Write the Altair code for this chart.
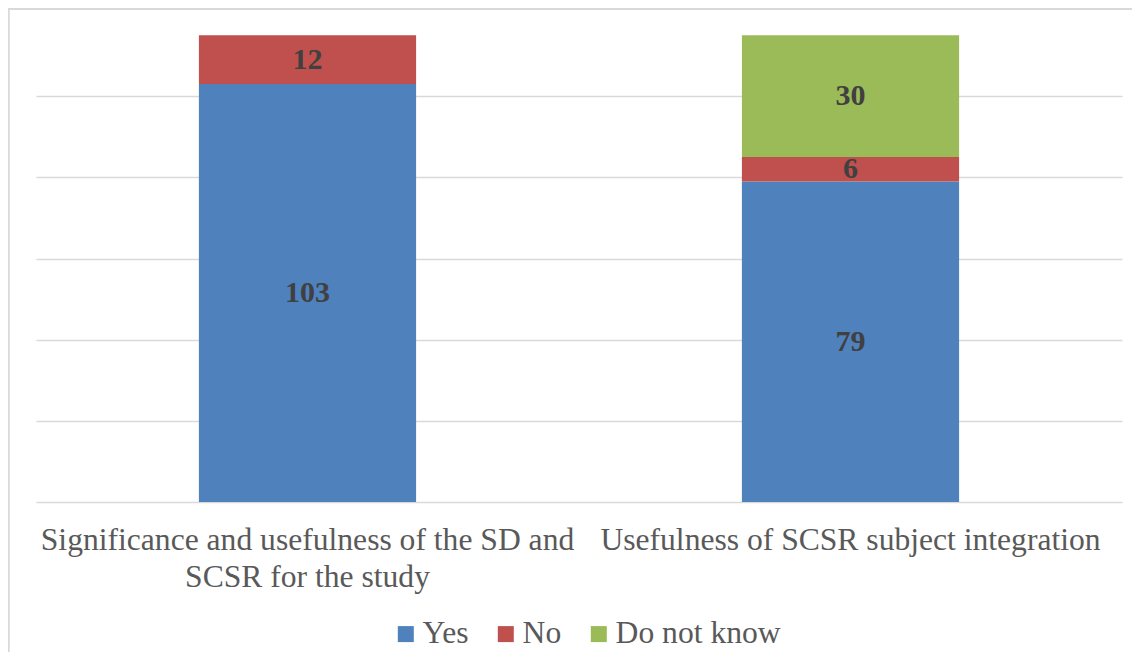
import altair as alt
import pandas as pd

categories = [
    "Significance and usefulness of the SD and SCSR for the study",
    "Usefulness of SCSR subject integration",
]
label_lines = [
    ["Significance and usefulness of the SD and", "SCSR for the study"],
    ["Usefulness of SCSR subject integration"],
]
series = ["Yes", "No", "Do not know"]
yes_vals = [103, 79]
no_vals = [12, 6]
dnk_vals = [None, 30]
colors = ["#4F81BD", "#C0504D", "#9BBB59"]

rows = []
for i, c in enumerate(categories):
    for j, (s, vals) in enumerate(zip(series, [yes_vals, no_vals, dnk_vals])):
        v = vals[i]
        if v is not None:
            rows.append({"category": c, "series": s, "value": v, "order": j})
df = pd.DataFrame(rows)

label_expr = ""
for c, lines in zip(categories, label_lines):
    arr = "[" + ",".join("'" + l + "'" for l in lines) + "]"
    label_expr += f"datum.label == '{c}' ? {arr} : "
label_expr += "datum.label"

FONT = "Times New Roman, Liberation Serif, DejaVu Serif, serif"
W, H = 1086, 487

base = alt.Chart(df).transform_stack(
    stack="value", groupby=["category"], sort=[alt.SortField("order")], as_=["v0", "v1"]
).transform_calculate(mid="(datum.v0 + datum.v1) / 2")

x_enc = alt.X(
    "category:N",
    sort=categories,
    title=None,
    scale=alt.Scale(paddingInner=0.6, paddingOuter=0.3),
    axis=alt.Axis(
        labelAngle=0,
        labelFont=FONT,
        labelFontSize=31.6,
        labelColor="#595959",
        labelLimit=1000,
        labelLineHeight=37,
        labelPadding=22,
        labelExpr=label_expr,
        ticks=False,
        domain=False,
        grid=False,
    ),
)

bars = base.mark_bar().encode(
    x=x_enc,
    y=alt.Y(
        "v0:Q",
        title=None,
        scale=alt.Scale(domain=[0, 120], nice=False),
        axis=alt.Axis(
            values=[0, 20, 40, 60, 80, 100],
            labels=False,
            ticks=False,
            domain=False,
            grid=True,
            gridColor="#d9d9d9",
            gridWidth=1.5,
        ),
    ),
    y2="v1:Q",
    color=alt.Color(
        "series:N",
        scale=alt.Scale(domain=series, range=colors),
        legend=alt.Legend(
            title=None,
            orient="none",
            direction="horizontal",
            legendX=354,
            legendY=603,
            symbolType="square",
            symbolSize=256,
            symbolStrokeWidth=0,
            labelFont=FONT,
            labelFontSize=31.6,
            labelColor="#595959",
            labelLimit=600,
            labelOffset=1,
            columnPadding=21,
        ),
    ),
    order=alt.Order("order:Q"),
)

texts = base.mark_text(
    font=FONT, fontSize=30, fontWeight="bold", color="#404040", baseline="middle"
).encode(
    x=alt.X("category:N", sort=categories),
    y=alt.Y("mid:Q"),
    text=alt.Text("value:Q"),
)

frame_top = alt.Chart(df).mark_rule(color="#d9d9d9", strokeWidth=1.5, clip=False).encode(
    x=alt.value(-27.5), x2=alt.value(W + 60), y=alt.value(-6)
)
frame_left = alt.Chart(df).mark_rule(color="#d9d9d9", strokeWidth=1.5, clip=False).encode(
    x=alt.value(-27.5), y=alt.value(-6), y2=alt.value(H + 200)
)

chart = alt.layer(frame_top, frame_left, bars, texts).properties(
    width=W,
    height=H,
    autosize=alt.AutoSizeParams(type="none"),
    padding={"left": 28, "top": 7, "right": 10, "bottom": 150},
).configure(background="white").configure_view(strokeWidth=0)

chart.save("out.html", embed_options={"renderer": "svg", "actions": False})
